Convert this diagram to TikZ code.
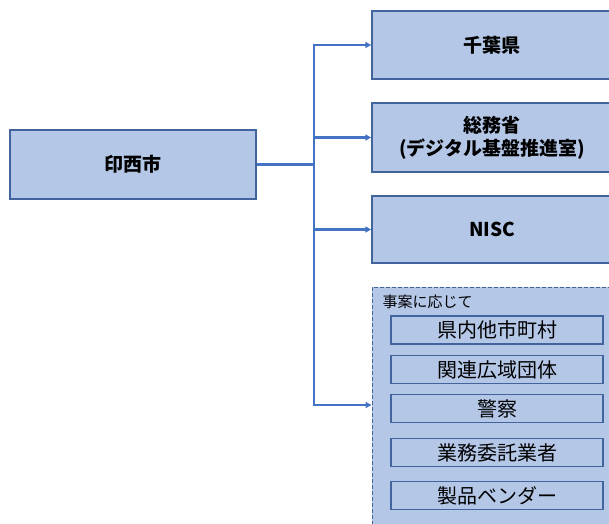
\documentclass[tikz,border=0pt]{standalone}
\usepackage{fontspec}
\setmainfont{Noto Sans CJK JP}
\usetikzlibrary{arrows.meta}
\definecolor{boxfill}{HTML}{B4C7E7}
\definecolor{boxline}{HTML}{41649C}
\definecolor{linkblue}{HTML}{4472C4}

\tikzset{
  orgbox/.style={draw=boxline,line width=1.4pt,fill=boxfill,align=center,inner sep=0pt,
    font=\fontsize{19}{23}\selectfont\bfseries},
  subbox/.style={draw=boxline,line width=1.3pt,inner sep=0pt,minimum width=212,minimum height=28,
    font=\fontsize{20}{24}\selectfont},
  link/.style={draw=linkblue,line width=2.5pt,-{Triangle[length=6pt,width=6pt]}}
}

\begin{document}
\begin{tikzpicture}[x=1pt,y=-1pt]
        \useasboundingbox (0,0) rectangle (609,523);
        \clip (0,0) rectangle (609,523);

        %%% left
        \node[orgbox,minimum width=246,minimum height=69] (inzai) at (133,164.5) {印西市};

        %%% right
        \node[orgbox,minimum width=240,minimum height=68] (chiba) at (492,45) {千葉県};
        \node[orgbox,minimum width=240,minimum height=69] (soumu) at (492,137.5) {総務省\\(デジタル基盤推進室)};
        \node[orgbox,minimum width=240,minimum height=67] (nisc) at (492,229.5) {NISC};

        %%% case by case
        \node[draw=boxline,dashed,dash pattern=on 4pt off 2pt,line width=1pt,fill=boxfill,
              minimum width=246,minimum height=246] (other) at (495,410) {};
        \node[anchor=west,font=\fontsize{15}{18}\selectfont] (note) at (379,302) {事案に応じて};
        \node[subbox] (city) at (497,330) {県内他市町村};
        \node[subbox] (wide) at (497,369.5) {関連広域団体};
        \node[subbox] (police) at (497,408.5) {警察};
        \node[subbox] (vendor1) at (497,452.5) {業務委託業者};
        \node[subbox] (vendor2) at (497,495.5) {製品ベンダー};

        %%% links
        \coordinate (jt) at (314,164.5);
        \draw[draw=linkblue,line width=3pt] (inzai.east) -- (jt);
        \draw[link] (jt) |- (chiba.west);
        \draw[link] (jt) |- (soumu.west);
        \draw[link] (jt) |- (nisc.west);
        \draw[link] (jt) |- (other.west |- 0,405);
\end{tikzpicture}
\end{document}
